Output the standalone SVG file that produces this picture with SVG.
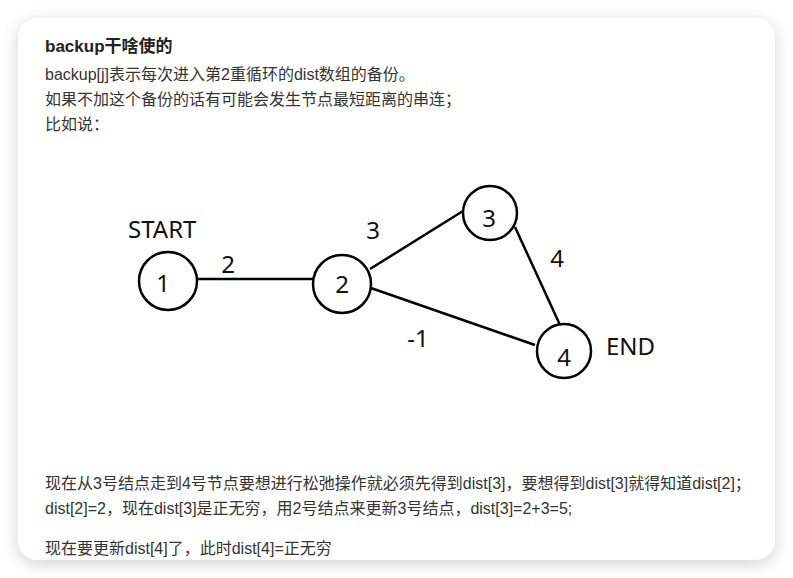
<svg xmlns="http://www.w3.org/2000/svg" width="793" height="578" viewBox="0 0 793 578">
<defs>
<filter id="sh" x="-10%" y="-10%" width="120%" height="120%">
<feDropShadow dx="0" dy="4" stdDeviation="8" flood-color="#000" flood-opacity="0.18"/>
</filter>
</defs>
<style>
.p{font-family:"Liberation Sans","Noto Sans CJK SC",sans-serif;font-size:16px;fill:#333}
.t{font-weight:bold;font-size:17px;fill:#222}
.g{font-family:"Noto Sans","Open Sans",sans-serif;font-size:24px;fill:#111}
.c{text-anchor:middle}
.n{fill:#fff;stroke:#000;stroke-width:2.5}
.e{stroke:#000;stroke-width:2.5;fill:none}
</style>
<rect x="0" y="0" width="793" height="578" fill="#fff"/>
<rect x="18" y="18" width="757" height="542" rx="20" fill="#fff" filter="url(#sh)"/>
<text class="p t" x="45" y="52">backup干啥使的</text>
<text class="p" x="45" y="80">backup[j]表示每次进入第2重循环的dist数组的备份。</text>
<text class="p" x="45" y="105">如果不加这个备份的话有可能会发生节点最短距离的串连；</text>
<text class="p" x="45" y="130">比如说：</text>
<g id="connectors">
<line class="e" x1="197" y1="279" x2="318" y2="279"/>
<line class="e" x1="370" y1="269" x2="463" y2="211"/>
<line class="e" x1="368" y1="287" x2="535" y2="345"/>
<line class="e" x1="515" y1="227" x2="560" y2="325"/>
</g>
<g id="node1"><circle class="n" cx="168" cy="281" r="29"/><text class="g c" x="163" y="292">1</text></g>
<g id="node2"><circle class="n" cx="342" cy="284" r="29"/><text class="g c" x="342" y="293">2</text></g>
<g id="node3"><circle class="n" cx="490" cy="213" r="27"/><text class="g c" x="489" y="227">3</text></g>
<g id="node4"><circle class="n" cx="564" cy="351" r="27"/><text class="g c" x="564" y="366">4</text></g>
<g id="labels">
<text class="g" x="128" y="238">START</text>
<text class="g" x="606" y="355">END</text>
<text class="g c" x="228" y="273">2</text>
<text class="g c" x="373" y="239">3</text>
<text class="g c" x="557" y="267">4</text>
<text class="g c" x="418" y="347">-1</text>
</g>
<text class="p" x="45" y="489">现在从3号结点走到4号节点要想进行松弛操作就必须先得到dist[3]，要想得到dist[3]就得知道dist[2]；</text>
<text class="p" x="45" y="514">dist[2]=2，现在dist[3]是正无穷，用2号结点来更新3号结点，dist[3]=2+3=5;</text>
<text class="p" x="45" y="554">现在要更新dist[4]了，此时dist[4]=正无穷</text>
</svg>
